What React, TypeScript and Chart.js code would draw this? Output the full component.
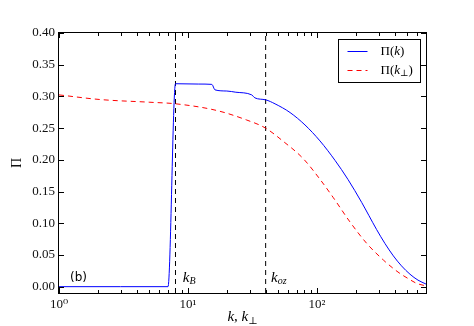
import React, { useEffect, useRef } from 'react';
import { Chart, registerables } from 'chart.js';

Chart.register(...registerables);

// ---- data ----
const kValues = [1, 3, 7, 8, 12, 15.3, 16.2, 20, 23.5, 31.2, 33, 40, 47.3, 61.8, 80.7, 105.5, 137.9, 173.9, 222, 253, 290, 336.6, 391, 451.9, 526, 606.7, 700];
const piK = [0, 0, 0, 0.32, 0.3195, 0.319, 0.3103, 0.3085, 0.3066, 0.3024, 0.2977, 0.2946, 0.2883, 0.2746, 0.255, 0.2298, 0.1992, 0.169, 0.1329, 0.1119, 0.09, 0.068, 0.0485, 0.0328, 0.0196, 0.0103, 0.0041];

const kPerpValues = [1, 2.08, 5.07, 8.07, 16.7, 28.5, 39.7, 54.8, 78.3, 105.5, 134, 180, 243, 327, 391, 440, 507.6, 591, 700];
const piKPerp = [0.3024, 0.2951, 0.2908, 0.2883, 0.2778, 0.2628, 0.2503, 0.2291, 0.2018, 0.1693, 0.1402, 0.1022, 0.0682, 0.042, 0.0286, 0.0208, 0.0129, 0.0053, 0.0011];

const kB = 8;
const kOz = 40;

const seriesLabels = ['Π(k)', 'Π(k⊥)'];
const xTickValues = [1, 2, 3, 4, 5, 6, 7, 8, 9, 10, 20, 30, 40, 50, 60, 70, 80, 90, 100, 200, 300, 400, 500, 600, 700];
const yTickValues = [0, 0.05, 0.1, 0.15, 0.2, 0.25, 0.3, 0.35, 0.4];
const xMin = 1;
const xMax = 700;
const yMin = -0.01;
const yMax = 0.4;

const SERIF = '"Liberation Serif", "DejaVu Serif", serif';
const SUP = ['⁰', '¹', '²', '³', '⁴'];

const isPow10 = (v: number) => {
  const e = Math.log10(v);
  return Math.abs(e - Math.round(e)) < 1e-9;
};

type Part = { t: string; font: string; dy?: number };

function drawParts(ctx: CanvasRenderingContext2D, parts: Part[], x: number, y: number, align: 'left' | 'center' = 'left') {
  let total = 0;
  parts.forEach(p => {
    ctx.font = p.font;
    total += ctx.measureText(p.t).width;
  });
  let cx = align === 'center' ? x - total / 2 : x;
  parts.forEach(p => {
    ctx.font = p.font;
    ctx.fillText(p.t, cx, y + (p.dy || 0));
    cx += ctx.measureText(p.t).width;
  });
}

function labelParts(label: string, size: number): Part[] {
  const parts: Part[] = [];
  for (const ch of label) {
    if (/[a-z]/.test(ch)) parts.push({ t: ch, font: `italic ${size}px ${SERIF}` });
    else if (ch === '⊥') parts.push({ t: ch, font: `${Math.round(size * 0.7)}px ${SERIF}`, dy: 3 });
    else parts.push({ t: ch, font: `${size}px ${SERIF}` });
  }
  return parts;
}

const decorPlugin = {
  id: 'decor',
  afterDraw(chart: any) {
    const { ctx, chartArea: a, scales } = chart;
    const x = scales.x;
    const y = scales.y;
    ctx.save();
    ctx.strokeStyle = '#000';
    ctx.lineWidth = 1;
    ctx.setLineDash([]);
    // inward ticks
    ctx.beginPath();
    xTickValues.forEach(v => {
      const px = Math.round(x.getPixelForValue(v)) + 0.5;
      const len = isPow10(v) ? 5 : 3;
      ctx.moveTo(px, a.bottom);
      ctx.lineTo(px, a.bottom - len);
      ctx.moveTo(px, a.top);
      ctx.lineTo(px, a.top + len);
    });
    yTickValues.forEach(v => {
      const py = Math.round(y.getPixelForValue(v)) + 0.5;
      ctx.moveTo(a.left, py);
      ctx.lineTo(a.left + 5, py);
      ctx.moveTo(a.right, py);
      ctx.lineTo(a.right - 5, py);
    });
    ctx.stroke();
    // frame
    ctx.strokeRect(Math.round(a.left) - 0.5, Math.round(a.top) - 0.5, Math.round(a.right - a.left) + 1, Math.round(a.bottom - a.top) + 1);

    ctx.fillStyle = '#000';
    ctx.textBaseline = 'alphabetic';
    // k_B, k_oz labels
    const ly = y.getPixelForValue(0.008);
    drawParts(ctx, [
      { t: 'k', font: `italic 15px ${SERIF}` },
      { t: 'B', font: `italic 10px ${SERIF}`, dy: 2.5 },
    ], x.getPixelForValue(kB * 1.14), ly);
    drawParts(ctx, [
      { t: 'k', font: `italic 15px ${SERIF}` },
      { t: 'oz', font: `italic 10px ${SERIF}`, dy: 2.5 },
    ], x.getPixelForValue(kOz * 1.1), ly);

    // panel tag
    ctx.font = '12px "DejaVu Sans", sans-serif';
    ctx.fillText('(b)', a.left + 11, ly - 0.5);

    // x axis title
    drawParts(ctx, [
      { t: 'k', font: `italic 15px ${SERIF}` },
      { t: ', ', font: `15px ${SERIF}` },
      { t: 'k', font: `italic 15px ${SERIF}` },
      { t: '⊥', font: `10px ${SERIF}`, dy: 2.5 },
    ], (a.left + a.right) / 2, 321, 'center');

    // legend
    const bx = Math.round(a.right - 6) + 0.5;
    const by = Math.round(a.top + 6) + 0.5;
    const bw = 82;
    const bh = 43;
    ctx.fillStyle = '#fff';
    ctx.fillRect(bx - bw, by, bw, bh);
    ctx.strokeStyle = '#000';
    ctx.lineWidth = 1;
    ctx.strokeRect(bx - bw, by, bw, bh);
    const rows = [by + 12, by + 31];
    chart.data.datasets.slice(0, 2).forEach((ds: any, i: number) => {
      ctx.strokeStyle = ds.borderColor;
      ctx.lineWidth = 1;
      ctx.setLineDash(ds.borderDash || []);
      ctx.beginPath();
      ctx.moveTo(bx - bw + 9, rows[i]);
      ctx.lineTo(bx - bw + 29, rows[i]);
      ctx.stroke();
      ctx.setLineDash([]);
      ctx.fillStyle = '#000';
      ctx.textBaseline = 'middle';
      drawParts(ctx, labelParts(ds.label, 13), bx - bw + 42, rows[i] + 0.5);
    });
    ctx.restore();
  },
};

export default function App() {
  const canvasRef = useRef<HTMLCanvasElement | null>(null);

  useEffect(() => {
    const canvas = canvasRef.current;
    if (!canvas) return;
    const chart = new Chart(canvas, {
      type: 'line',
      data: {
        datasets: [
          {
            label: seriesLabels[0],
            data: kValues.map((k, i) => ({ x: k, y: piK[i] })),
            borderColor: '#0000ff',
            borderWidth: 1,
            pointRadius: 0,
            cubicInterpolationMode: 'monotone',
            fill: false,
          },
          {
            label: seriesLabels[1],
            data: kPerpValues.map((k, i) => ({ x: k, y: piKPerp[i] })),
            borderColor: '#ff0000',
            borderWidth: 1,
            borderDash: [5, 4],
            pointRadius: 0,
            cubicInterpolationMode: 'monotone',
            fill: false,
          },
          {
            label: 'kB',
            data: [{ x: kB, y: yMin }, { x: kB, y: yMax }],
            borderColor: '#000',
            borderWidth: 1,
            borderDash: [5, 4],
            pointRadius: 0,
          },
          {
            label: 'koz',
            data: [{ x: kOz, y: yMin }, { x: kOz, y: yMax }],
            borderColor: '#000',
            borderWidth: 1,
            borderDash: [5, 4],
            pointRadius: 0,
          },
        ],
      },
      options: {
        animation: false,
        responsive: false,
        devicePixelRatio: 1,
        layout: { padding: { top: 33, right: 48, left: 0, bottom: 0 } },
        plugins: {
          legend: { display: false },
          tooltip: { enabled: false },
        },
        scales: {
          x: {
            type: 'logarithmic',
            min: xMin,
            max: xMax,
            grid: { display: false, drawTicks: false },
            border: { display: false },
            afterBuildTicks: (s: any) => {
              s.ticks = xTickValues.map(value => ({ value }));
            },
            afterFit: (s: any) => {
              s.height = 33;
            },
            ticks: {
              autoSkip: false,
              maxRotation: 0,
              padding: 4,
              color: '#111',
              font: { family: SERIF, size: 13 },
              callback: (v: any) => (isPow10(Number(v)) ? '10' + SUP[Math.round(Math.log10(Number(v)))] : ''),
            },
          },
          y: {
            type: 'linear',
            min: yMin,
            max: yMax,
            grid: { display: false, drawTicks: false },
            border: { display: false },
            afterBuildTicks: (s: any) => {
              s.ticks = yTickValues.map(value => ({ value }));
            },
            afterFit: (s: any) => {
              s.width = 59;
            },
            ticks: {
              padding: 4,
              color: '#111',
              font: { family: SERIF, size: 13 },
              callback: (v: any) => Number(v).toFixed(2),
            },
            title: {
              display: true,
              text: 'Π',
              color: '#111',
              font: { family: SERIF, size: 14 },
              padding: { top: 9, bottom: 0 },
            },
          },
        },
      },
      plugins: [decorPlugin],
    } as any);
    return () => chart.destroy();
  }, []);

  return (
    <div style={{ position: 'absolute', left: 0, top: 0, width: 474, height: 326, background: '#fff' }}>
      <canvas ref={canvasRef} width={474} height={326} style={{ display: 'block', width: 474, height: 326 }} />
    </div>
  );
}
